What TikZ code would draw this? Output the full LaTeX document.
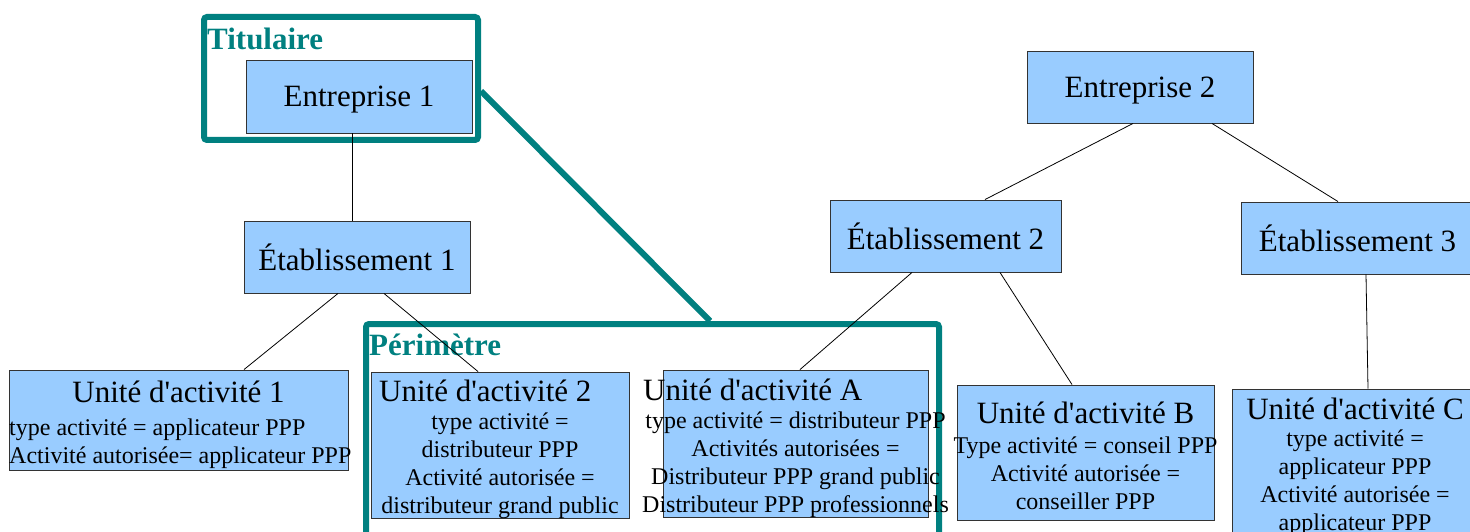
\documentclass[tikz,border=0pt]{standalone}
\usepackage{fontspec}
\setmainfont{Liberation Serif}
\definecolor{boxblue}{RGB}{153,204,255}
\definecolor{frameteal}{RGB}{0,128,128}
\tikzset{
  unitbox/.style={draw=black!80, fill=boxblue, line width=0.9pt, inner sep=0pt},
  headtext/.style={font=\fontsize{31}{36}\selectfont, inner sep=0pt, text depth=0pt},
  bodytext/.style={font=\fontsize{24}{28}\selectfont, align=center, inner sep=0pt, anchor=base},
  tealframe/.style={draw=frameteal, line width=6pt, rounded corners=3pt, inner sep=0pt},
  frametitle/.style={text=frameteal, font=\fontsize{31}{36}\selectfont\bfseries, inner sep=0pt, anchor=base west},
  link/.style={draw=black, line width=0.8pt},
}
\newcommand{\uact}[1]{Unité d\textquotesingle activité #1}

\begin{document}
\begin{tikzpicture}[x=1pt,y=-1pt]
  \useasboundingbox (0,0) rectangle (1470,532);

  %% frames
  \node[tealframe, minimum width=274, minimum height=123] (tit) at (341,78.5) {};
  \node[tealframe, minimum width=573, minimum height=212] (per) at (652.5,430) {};
  \draw[frameteal, line width=6pt] ([yshift=-12.5]tit.east) -- ([xshift=57.5]per.north);
  \node[frametitle] (tit-t) at (207,49.5) {Titulaire};
  \node[frametitle] (per-t) at (369,355.5) {Périmètre};

  %% boxes
  \node[unitbox, headtext, minimum width=226, minimum height=73] (ent1) at (359,96.5) {Entreprise 1};
  \node[unitbox, headtext, minimum width=226, minimum height=72] (et1) at (357,257) {Établissement 1};
  \node[unitbox, headtext, minimum width=226, minimum height=72] (ent2) at (1140,87) {Entreprise 2};
  \node[unitbox, headtext, minimum width=231, minimum height=72] (et2) at (945.5,236) {Établissement 2};
  \node[unitbox, headtext, minimum width=232, minimum height=72] (et3) at (1357.5,238) {Établissement 3};
  \node[unitbox, minimum width=339, minimum height=100] (ua1) at (178.5,420) {};
  \node[unitbox, minimum width=258, minimum height=146] (ua2) at (500,445) {};
  \node[unitbox, minimum width=265, minimum height=147] (uaA) at (795.5,443.5) {};
  \node[unitbox, minimum width=257, minimum height=135] (uaB) at (1085.5,452.5) {};
  \node[unitbox, minimum width=246, minimum height=160] (uaC) at (1355,469) {};

  %% links
  \draw[link] ([xshift=-7]ent1.south) -- ([xshift=-5]et1.north);
  \draw[link] ([xshift=-19]et1.south) -- ([xshift=65.5]ua1.north);
  \draw[link] ([xshift=27]et1.south) -- ([xshift=-22]ua2.north);
  \draw[link] ([xshift=-7]ent2.south) -- ([xshift=39.5]et2.north);
  \draw[link] ([xshift=72]ent2.south) -- ([xshift=-19.5]et3.north);
  \draw[link] ([xshift=-33.5]et2.south) -- ([xshift=4.5]uaA.north);
  \draw[link] ([xshift=54.5]et2.south) -- ([xshift=-13.5]uaB.north);
  \draw[link] ([xshift=8.5]et3.south) -- ([xshift=13]uaC.north);

  %% texts of the units (base of a body = its last line)
  \node[headtext, anchor=base] (ua1-t) at (178.5,402) {\uact{1}};
  \node[bodytext, anchor=base west, align=left] (ua1-b) at (9,463)
    {type activité = applicateur PPP\\Activité autorisée= applicateur PPP};
  \node[headtext, anchor=base west] (ua2-t) at (379,401) {\uact{2}};
  \node[bodytext] (ua2-b) at (500,513)
    {type activité =\\distributeur PPP\\Activité autorisée =\\distributeur grand public};
  \node[headtext, anchor=base west] (uaA-t) at (643,400) {\uact{A}};
  \node[bodytext] (uaA-b) at (795.5,512)
    {type activité = distributeur PPP\\Activités autorisées =\\Distributeur PPP grand public\\Distributeur PPP professionnels};
  \node[headtext, anchor=base] (uaB-t) at (1085.5,423) {\uact{B}};
  \node[bodytext] (uaB-b) at (1085.5,509)
    {Type activité = conseil PPP\\Activité autorisée =\\conseiller PPP};
  \node[headtext, anchor=base] (uaC-t) at (1355,419) {\uact{C}};
  \node[bodytext] (uaC-b) at (1355,530)
    {type activité =\\applicateur PPP\\Activité autorisée =\\applicateur PPP};
\end{tikzpicture}
\end{document}
